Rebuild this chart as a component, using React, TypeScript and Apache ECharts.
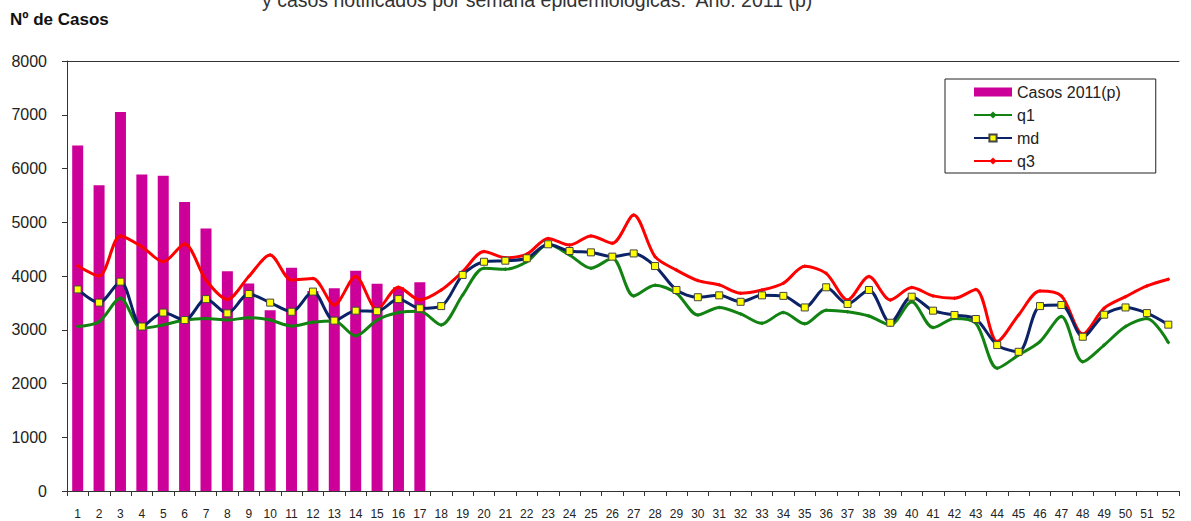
import React, { useEffect, useRef } from "react";
import * as echarts from "echarts";

const weeks = [
  "1","2","3","4","5","6","7","8","9","10","11","12","13","14","15","16","17","18","19","20",
  "21","22","23","24","25","26","27","28","29","30","31","32","33","34","35","36","37","38","39","40",
  "41","42","43","44","45","46","47","48","49","50","51","52",
];

const casos2011 = [6430, 5690, 7050, 5890, 5865, 5375, 4885, 4090, 3860, 3365, 4155, 3720, 3770, 4100, 3855, 3790, 3885];

const q1 = [
  3060, 3150, 3585, 3025, 3090, 3180, 3210, 3180, 3225, 3180, 3070, 3140, 3165, 2885, 3180, 3320, 3345,
  3090, 3645, 4145, 4125, 4265, 4590, 4390, 4145, 4330, 3630, 3830, 3680, 3275, 3415, 3295, 3120, 3320,
  3110, 3365, 3335, 3255, 3090, 3520, 3040, 3210, 3120, 2285, 2530, 2780, 3245, 2405, 2715, 3060, 3210, 2765,
];

const md = [
  3750, 3505, 3895, 3060, 3320, 3180, 3570, 3305, 3665, 3505, 3335, 3710, 3170, 3355, 3345, 3570, 3400,
  3440, 4020, 4265, 4285, 4330, 4590, 4465, 4440, 4360, 4420, 4185, 3740, 3605, 3640, 3520, 3640, 3630,
  3415, 3790, 3480, 3740, 3130, 3615, 3355, 3275, 3200, 2715, 2590, 3440, 3460, 2870, 3280, 3415, 3310, 3095,
];

const q3 = [
  4190, 4000, 4745, 4545, 4265, 4595, 3925, 3565, 3990, 4390, 3925, 3955, 3460, 3990, 3380, 3790, 3555,
  3740, 4080, 4455, 4340, 4405, 4700, 4575, 4745, 4610, 5135, 4360, 4110, 3915, 3835, 3680, 3740, 3865,
  4180, 4050, 3555, 3990, 3555, 3785, 3630, 3585, 3750, 2780, 3275, 3720, 3630, 2920, 3400, 3615, 3815, 3940,
];

const yTicks = { min: 0, max: 8000, interval: 1000 };

const FONT = "Arial, 'Liberation Sans', sans-serif";

export default function App() {
  const ref = useRef<HTMLDivElement>(null);

  useEffect(() => {
    document.body.style.margin = "0";
    if (!ref.current) return;
    const chart = echarts.init(ref.current, null, { renderer: "svg" });
    chart.setOption({
      animation: false,
      backgroundColor: "#ffffff",
      textStyle: { fontFamily: FONT },
      graphic: [
        {
          type: "text",
          left: 262,
          top: -10,
          style: {
            text: "y casos notificados por semana epidemiológicas:  Año: 2011 (p)",
            font: `19.5px ${FONT}`,
            fill: "#333",
          },
        },
        {
          type: "text",
          left: 10,
          top: 11,
          style: {
            text: "Nº de Casos",
            font: `bold 17px ${FONT}`,
            fill: "#111",
          },
        },
      ],
      legend: {
        orient: "vertical",
        left: 945,
        top: 79,
        backgroundColor: "#fff",
        borderColor: "#222",
        borderWidth: 1,
        borderRadius: 0,
        padding: [5, 35, 4, 28],
        itemWidth: 38,
        itemHeight: 9,
        itemGap: 7,
        textStyle: { fontSize: 16, color: "#222", fontFamily: FONT },
        data: [
          { name: "Casos 2011(p)", icon: "rect" },
          { name: "q1" },
          { name: "md" },
          { name: "q3" },
        ],
      },
      grid: { left: 67, right: 12, top: 61, bottom: 30, containLabel: false },
      xAxis: [
        {
          type: "category",
          data: weeks,
          boundaryGap: true,
          axisLine: { show: true, lineStyle: { color: "#333", width: 1 } },
          axisTick: { show: true, length: 5, interval: 0, lineStyle: { color: "#333" } },
          axisLabel: { interval: 0, fontSize: 12, color: "#222", margin: 17, fontFamily: FONT },
          splitLine: { show: false },
        },
        {
          type: "category",
          data: weeks,
          position: "top",
          axisLine: { show: true, onZero: false, lineStyle: { color: "#333", width: 1 } },
          axisTick: { show: false },
          axisLabel: { show: false },
          splitLine: { show: false },
        },
      ],
      yAxis: {
        type: "value",
        min: yTicks.min,
        max: yTicks.max,
        interval: yTicks.interval,
        axisLine: { show: true, lineStyle: { color: "#333", width: 1 } },
        axisTick: { show: true, length: 5, lineStyle: { color: "#333" } },
        axisLabel: {
          fontSize: 16,
          color: "#222",
          margin: 20,
          fontFamily: FONT,
          formatter: (v: number) => String(v),
        },
        splitLine: { show: false },
      },
      series: [
        {
          name: "Casos 2011(p)",
          type: "bar",
          data: casos2011,
          barWidth: 11,
          itemStyle: { color: "#cc0099" },
        },
        {
          name: "q1",
          type: "line",
          data: q1,
          smooth: 0.3,
          symbol: "diamond",
          symbolSize: 4,
          lineStyle: { color: "#128212", width: 3 },
          itemStyle: { color: "#128212" },
          z: 3,
        },
        {
          name: "md",
          type: "line",
          data: md,
          smooth: 0.3,
          symbol: "rect",
          symbolSize: 7,
          lineStyle: { color: "#0c2266", width: 3 },
          itemStyle: { color: "#ffff00", borderColor: "#444", borderWidth: 1 },
          z: 4,
        },
        {
          name: "q3",
          type: "line",
          data: q3,
          smooth: 0.3,
          symbol: "diamond",
          symbolSize: 4,
          lineStyle: { color: "#ff0000", width: 3 },
          itemStyle: { color: "#ff0000" },
          z: 3,
        },
      ],
    });
    return () => chart.dispose();
  }, []);

  return <div ref={ref} style={{ width: 1191, height: 521 }} />;
}
